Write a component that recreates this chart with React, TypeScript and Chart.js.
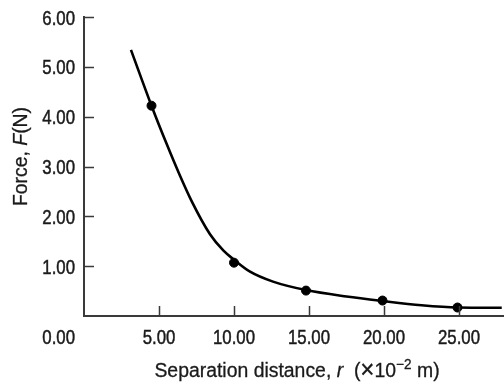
import React, { useEffect, useRef } from "react";
import { Chart, registerables } from "chart.js";

Chart.register(...registerables);

// Measured data points (r in 10^-2 m, F in N)
const pointR = [4.5, 10.0, 14.8, 19.9, 24.9];
const pointF = [4.22, 1.07, 0.51, 0.31, 0.17];

// Smooth fitted curve
const curveR = [3.13, 4.5, 5.5, 6.35, 7.2, 8.4, 9.3, 10.0, 11.07, 12.6, 14.8, 17.5, 19.9, 22.5, 24.9, 27.85];
const curveF = [5.34, 4.22, 3.46, 2.85, 2.29, 1.64, 1.31, 1.13, 0.89, 0.69, 0.52, 0.39, 0.3, 0.215, 0.17, 0.165];

const xTicks = [5, 10, 15, 20, 25];
const yTicks = [1, 2, 3, 4, 5, 6];
const originLabel = "0.00";

const FONT_FAMILY = '"Liberation Sans", Arial, sans-serif';
const TEXT_COLOR = "#1a1a1a";
const AXIS_COLOR = "#3a3a3a";
const TICK_FS = 21;
const TITLE_FS = 20;
const TICK_SX = 0.8; // horizontal condensing of tick lettering
const TITLE_SX = 0.97;

type Seg = { text: string; style?: string; size?: number; dy?: number };

function fontOf(style: string | undefined, size: number) {
  return `${style || "normal"} ${size}px ${FONT_FAMILY}`;
}

function drawCondensed(
  ctx: CanvasRenderingContext2D,
  segs: Seg[],
  x: number,
  y: number,
  align: "left" | "center" | "right",
  baseSize: number,
  sx: number,
  weight = 0.5
) {
  const widths = segs.map((s) => {
    ctx.font = fontOf(s.style, s.size || baseSize);
    return ctx.measureText(s.text).width;
  });
  const total = widths.reduce((a, b) => a + b, 0);
  let start = align === "left" ? 0 : align === "center" ? -total / 2 : -total;
  ctx.save();
  ctx.translate(x, y);
  ctx.scale(sx, 1);
  ctx.textAlign = "left";
  ctx.textBaseline = "alphabetic";
  ctx.strokeStyle = ctx.fillStyle as string;
  ctx.lineWidth = weight;
  segs.forEach((s, i) => {
    ctx.font = fontOf(s.style, s.size || baseSize);
    ctx.fillText(s.text, start, s.dy || 0);
    if (weight > 0) ctx.strokeText(s.text, start, s.dy || 0);
    start += widths[i];
  });
  ctx.restore();
}

const fmt = (v: number) => v.toFixed(2);

const decorPlugin = {
  id: "decor",
  afterDraw(chart: any) {
    const ctx: CanvasRenderingContext2D = chart.ctx;
    const xs = chart.scales.x;
    const ys = chart.scales.y;
    ctx.save();
    // inward tick marks
    ctx.strokeStyle = AXIS_COLOR;
    ctx.lineWidth = 1.5;
    ctx.beginPath();
    for (const v of xTicks) {
      const px = Math.round(xs.getPixelForValue(v)) + 0.5;
      ctx.moveTo(px, ys.bottom);
      ctx.lineTo(px, ys.bottom - 10);
    }
    for (const v of yTicks) {
      const py = Math.round(ys.getPixelForValue(v)) + 0.5;
      ctx.moveTo(xs.left, py);
      ctx.lineTo(xs.left + 10, py);
    }
    ctx.stroke();

    ctx.fillStyle = TEXT_COLOR;
    // tick labels
    for (const v of yTicks) {
      const py = ys.getPixelForValue(v);
      drawCondensed(ctx, [{ text: fmt(v) }], xs.left - 9, py + 7.5, "right", TICK_FS, TICK_SX);
    }
    const labelBase = ys.bottom + 28;
    for (const v of xTicks) {
      const px = xs.getPixelForValue(v);
      drawCondensed(ctx, [{ text: fmt(v) }], px, labelBase, "center", TICK_FS, TICK_SX);
    }
    drawCondensed(ctx, [{ text: originLabel }], xs.left - 9, labelBase, "right", TICK_FS, TICK_SX);

    // x title
    drawCondensed(
      ctx,
      [
        { text: "Separation distance, " },
        { text: "r", style: "italic" },
        { text: "  (" },
        { text: "×", size: 25, dy: 1 },
        { text: "10" },
        { text: "−2", size: 14, dy: -8 },
        { text: " m)" },
      ],
      (xs.left + xs.right) / 2 + 3,
      ys.bottom + 61,
      "center",
      TITLE_FS,
      TITLE_SX,
      0.3
    );

    // y title
    ctx.save();
    ctx.translate(27, (ys.top + ys.bottom) / 2 - 10);
    ctx.rotate(-Math.PI / 2);
    drawCondensed(
      ctx,
      [{ text: "Force, " }, { text: "F", style: "italic" }, { text: "(N)" }],
      0,
      0,
      "center",
      TITLE_FS,
      TITLE_SX,
      0.3
    );
    ctx.restore();
    ctx.restore();
  },
};

export default function App() {
  const ref = useRef<HTMLCanvasElement | null>(null);
  useEffect(() => {
    if (!ref.current) return;
    const chart = new Chart(ref.current, {
      type: "scatter",
      data: {
        datasets: [
          {
            label: "curve",
            data: curveR.map((r, i) => ({ x: r, y: curveF[i] })),
            showLine: true,
            borderColor: "#000",
            borderWidth: 2.6,
            pointRadius: 0,
            cubicInterpolationMode: "monotone",
            fill: false,
          },
          {
            label: "data",
            data: pointR.map((r, i) => ({ x: r, y: pointF[i] })),
            showLine: false,
            backgroundColor: "#000",
            borderColor: "#000",
            pointRadius: 4.5,
          },
        ],
      },
      options: {
        animation: false,
        responsive: false,
        maintainAspectRatio: false,
        layout: { autoPadding: false, padding: { top: 17, left: 0, right: 0, bottom: 0 } },
        plugins: {
          legend: { display: false },
          tooltip: { enabled: false },
        },
        scales: {
          x: {
            type: "linear",
            min: 0,
            max: 28,
            afterBuildTicks: (s: any) => {
              s.ticks = xTicks.map((v) => ({ value: v }));
            },
            afterFit: (s: any) => {
              s.height = 66;
              s.paddingLeft = 0;
              s.paddingRight = 0;
            },
            grid: { display: false, drawTicks: false },
            border: { display: true, color: AXIS_COLOR, width: 2 },
            ticks: { display: false },
          },
          y: {
            type: "linear",
            min: 0,
            max: 6,
            afterBuildTicks: (s: any) => {
              s.ticks = yTicks.map((v) => ({ value: v }));
            },
            afterFit: (s: any) => {
              s.width = 84;
              s.paddingTop = 0;
              s.paddingBottom = 0;
            },
            grid: { display: false, drawTicks: false },
            border: { display: true, color: AXIS_COLOR, width: 2 },
            ticks: { display: false },
          },
        },
      },
      plugins: [decorPlugin],
    });
    return () => chart.destroy();
  }, []);
  return (
    <div style={{ position: "absolute", left: 0, top: 0, width: 504, height: 382, background: "#fff" }}>
      <canvas ref={ref} width={504} height={382} style={{ width: 504, height: 382 }} />
    </div>
  );
}
